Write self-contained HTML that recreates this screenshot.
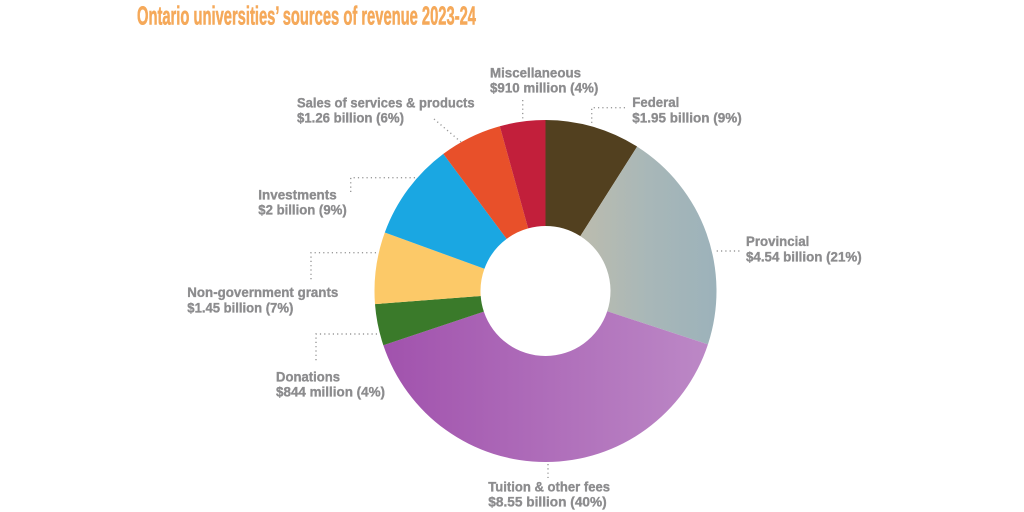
<!DOCTYPE html>
<html><head><meta charset="utf-8"><style>
html,body{margin:0;padding:0;background:#fff;}
svg{display:block;}
text{font-family:"Liberation Sans",sans-serif;font-weight:bold;}
.l{fill:#8c8c8e;stroke:#8c8c8e;stroke-width:0.35;font-size:14px;}
.d{stroke:#9a9a9a;stroke-width:1.4;stroke-dasharray:1.2 3.1;fill:none;}
</style></head><body>
<svg width="1024" height="512" viewBox="0 0 1024 512" xmlns="http://www.w3.org/2000/svg">
<defs>
<linearGradient id="pur" x1="0" y1="0" x2="1" y2="0">
<stop offset="0" stop-color="#a152ad"/><stop offset="1" stop-color="#bc88c6"/>
</linearGradient>
<linearGradient id="prov" x1="0" y1="0" x2="1" y2="0">
<stop offset="0" stop-color="#bcbcae"/><stop offset="0.5" stop-color="#a8b7b8"/><stop offset="1" stop-color="#9cb2ba"/>
</linearGradient>
</defs>
<text x="137" y="24.7" font-size="26" fill="#f5a95a" stroke="#f5a95a" stroke-width="0.6" textLength="339" lengthAdjust="spacingAndGlyphs">Ontario universities’ sources of revenue 2023-24</text>

<path d="M545.5,120 A171,171 0 0 1 637.12,146.62 L580.33,236.12 A65,65 0 0 0 545.5,226 Z" fill="#52401f"/>
<path d="M637.12,146.62 A171,171 0 0 1 707.95,344.40 L607.25,311.30 A65,65 0 0 0 580.33,236.12 Z" fill="url(#prov)"/>
<path d="M707.95,344.40 A171,171 0 0 1 383.34,345.26 L483.86,311.62 A65,65 0 0 0 607.25,311.30 Z" fill="url(#pur)"/>
<path d="M383.34,345.26 A171,171 0 0 1 375.00,304.12 L480.69,295.99 A65,65 0 0 0 483.86,311.62 Z" fill="#3a7a2a"/>
<path d="M375.00,304.12 A171,171 0 0 1 384.81,232.52 L484.42,268.77 A65,65 0 0 0 480.69,295.99 Z" fill="#fcc968"/>
<path d="M384.81,232.52 A171,171 0 0 1 443.31,153.89 L506.66,238.88 A65,65 0 0 0 484.42,268.77 Z" fill="#1aa7e2"/>
<path d="M443.31,153.89 A171,171 0 0 1 499.81,126.22 L528.13,228.37 A65,65 0 0 0 506.66,238.88 Z" fill="#e8502a"/>
<path d="M499.81,126.22 A171,171 0 0 1 545.5,120 L545.5,226 A65,65 0 0 0 528.13,228.37 Z" fill="#c21f3b"/>

<path class="d" d="M522.7,100 L522.7,120"/>
<path class="d" d="M434,119 L461,142"/>
<path class="d" d="M625,107.7 L591.7,107.7 L591.7,124"/>
<path class="d" d="M716.7,251 L740,251"/>
<path class="d" d="M415,177.7 L350.7,177.7 L350.7,194"/>
<path class="d" d="M376,252.7 L311,252.7 L311,281"/>
<path class="d" d="M377,334 L316,334 L316,363"/>
<path class="d" d="M548,464 L548,478"/>

<text class="l" x="490" y="77.7" textLength="91" lengthAdjust="spacingAndGlyphs">Miscellaneous</text>
<text class="l" x="490" y="92.7" textLength="108.3" lengthAdjust="spacingAndGlyphs">$910 million (4%)</text>

<text class="l" x="297" y="107.7" textLength="177.6" lengthAdjust="spacingAndGlyphs">Sales of services &amp; products</text>
<text class="l" x="297" y="122.5" textLength="107" lengthAdjust="spacingAndGlyphs">$1.26 billion (6%)</text>

<text class="l" x="632.3" y="107" textLength="47" lengthAdjust="spacingAndGlyphs">Federal</text>
<text class="l" x="632.3" y="122.3" textLength="109.4" lengthAdjust="spacingAndGlyphs">$1.95 billion  (9%)</text>

<text class="l" x="746" y="246" textLength="63.3" lengthAdjust="spacingAndGlyphs">Provincial</text>
<text class="l" x="746" y="261.3" textLength="115.7" lengthAdjust="spacingAndGlyphs">$4.54 billion (21%)</text>

<text class="l" x="258.3" y="199.3" textLength="78.4" lengthAdjust="spacingAndGlyphs">Investments</text>
<text class="l" x="258.3" y="214.3" textLength="88.4" lengthAdjust="spacingAndGlyphs">$2 billion (9%)</text>

<text class="l" x="187.3" y="297" textLength="151" lengthAdjust="spacingAndGlyphs">Non-government grants</text>
<text class="l" x="187.3" y="312.5" textLength="106" lengthAdjust="spacingAndGlyphs">$1.45 billion (7%)</text>

<text class="l" x="276" y="381.7" textLength="64" lengthAdjust="spacingAndGlyphs">Donations</text>
<text class="l" x="276" y="396.7" textLength="109" lengthAdjust="spacingAndGlyphs">$844 million (4%)</text>

<text class="l" x="488.3" y="491.7" textLength="121.7" lengthAdjust="spacingAndGlyphs">Tuition &amp; other fees</text>
<text class="l" x="488.3" y="506.7" textLength="118.4" lengthAdjust="spacingAndGlyphs">$8.55 billion (40%)</text>
</svg>
</body></html>
